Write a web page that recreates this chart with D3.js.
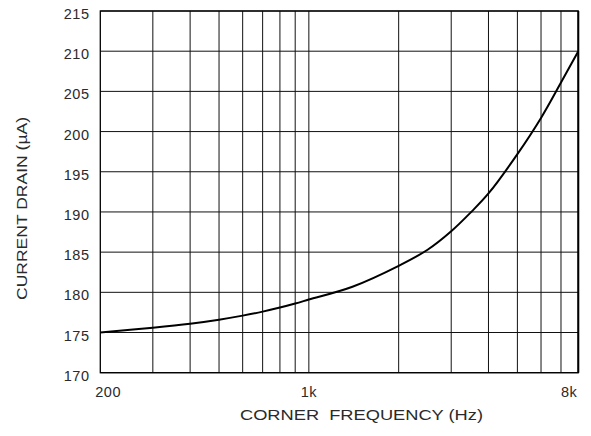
<!DOCTYPE html>
<html>
<head>
<meta charset="utf-8">
<script src="https://cdn.jsdelivr.net/npm/d3@7"></script>
<style>
  body{margin:0;background:#fff;}
  text{font-family:"Liberation Sans",Arial,sans-serif;fill:#2a2a2a;}
</style>
</head>
<body>
<div class="chart"></div>
<script>
// 数据：转折频率 (Hz) 与电流 (µA)
const freqs=[200,300,400,500,600,700,800,900,1000,1400,2000,2500,3000,3500,4000,5000,6000,7000,8000];
const drain=[175.0,175.6,176.1,176.6,177.1,177.6,178.1,178.6,179.1,180.7,183.3,185.3,187.6,190.0,192.3,197.2,201.7,206.1,210.0];
const gridFreqs=[300,400,500,600,700,800,900,1000,2000,3000,4000,5000,6000,7000];
const yTicks=[170,175,180,185,190,195,200,205,210,215];
const xLabels=[{f:200,t:'200',a:'start',dx:-5},{f:1000,t:'1k',a:'middle',dx:0},{f:8000,t:'8k',a:'end',dx:-1}];

const W=591,H=436;
const m={left:100.3,right:578.3,top:11,bottom:372.7};

let svg=d3.select(".chart").append("svg")
    .attr("width",W).attr("height",H);

let x=d3.scaleLog().domain([200,8000]).range([m.left,m.right]);
let y=d3.scaleLinear().domain([170,215]).range([m.bottom,m.top]);

// 网格
svg.append("g").selectAll("line").data(gridFreqs).enter().append("line")
    .attr("x1",d=>x(d)).attr("x2",d=>x(d))
    .attr("y1",m.top).attr("y2",m.bottom)
    .attr("stroke","#111").attr("stroke-width",1);

svg.append("g").selectAll("line").data(yTicks).enter().append("line")
    .attr("x1",m.left).attr("x2",m.right)
    .attr("y1",d=>y(d)).attr("y2",d=>y(d))
    .attr("stroke","#111").attr("stroke-width",1);

// 边框
svg.append("rect")
    .attr("x",m.left).attr("y",m.top)
    .attr("width",m.right-m.left).attr("height",m.bottom-m.top)
    .attr("fill","none").attr("stroke","#000").attr("stroke-width",1.3);
svg.append("line")
    .attr("x1",m.right).attr("x2",m.right).attr("y1",m.top).attr("y2",m.bottom)
    .attr("stroke","#000").attr("stroke-width",2);

// 曲线
let line=d3.line()
    .x((d,i)=>x(freqs[i]))
    .y(d=>y(d))
    .curve(d3.curveCatmullRom.alpha(0.5));
svg.append("path").datum(drain)
    .attr("d",line)
    .attr("fill","none").attr("stroke","#000").attr("stroke-width",2);

// y 标签
svg.append("g").selectAll("text").data(yTicks).enter().append("text")
    .attr("x",89.5).attr("y",d=>y(d)+8)
    .attr("text-anchor","end")
    .style("font-size","14.5px")
    .style("letter-spacing","0.5px")
    .text(d=>d);

// x 标签
svg.append("g").selectAll("text").data(xLabels).enter().append("text")
    .attr("x",d=>x(d.f)+d.dx).attr("y",397)
    .attr("text-anchor",d=>d.a)
    .style("font-size","14.5px")
    .style("letter-spacing","0.5px")
    .text(d=>d.t);

svg.append("text")
    .attr("x",240).attr("y",420)
    .attr("textLength",243).attr("lengthAdjust","spacingAndGlyphs")
    .style("font-size","14.5px")
    .attr("xml:space","preserve")
    .text("CORNER  FREQUENCY (Hz)");

svg.append("text")
    .attr("transform","translate(26.5,300) rotate(-90)")
    .attr("textLength",183).attr("lengthAdjust","spacingAndGlyphs")
    .style("font-size","14.5px")
    .text("CURRENT DRAIN (\u00b5A)");
</script>
</body>
</html>
